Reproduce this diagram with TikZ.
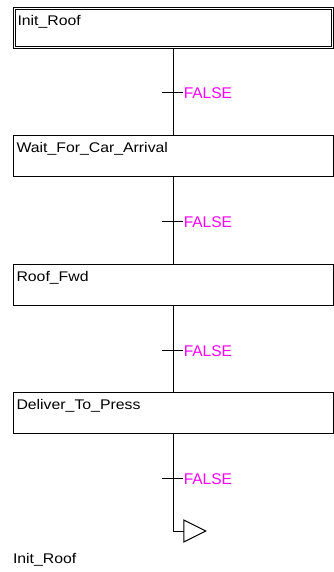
\documentclass[tikz,border=0pt]{standalone}
\usepackage{fontspec}
\setmainfont{Liberation Sans}
\newfontfamily\stepfont[FakeStretch=1.13]{Liberation Sans}
\usetikzlibrary{positioning}
\definecolor{condpink}{RGB}{255,0,255}
\tikzset{
	stepbox/.style={draw=black,minimum width=319.5pt,minimum height=41pt,inner xsep=3pt,inner ysep=0pt,outer sep=0pt,
		text width=313.5pt,align=left,text height=17pt,text depth=24pt,font=\stepfont\fontsize{14}{16}\selectfont},
	initstep/.style={stepbox,double,double distance=1pt,minimum width=317.5pt,minimum height=39.5pt,
		text width=311.5pt,text depth=22.5pt},
	condlbl/.style={anchor=base west,inner sep=0pt,text=condpink,font=\fontsize{15.5}{17}\selectfont},
}
\begin{document}
\begin{tikzpicture}[x=1pt,y=-1pt,line width=1pt]
	\useasboundingbox (0,0) rectangle (334,572);
	% steps and transitions
	\node[initstep,anchor=north west] (init) at (14.5,8.5) {Init\_Roof};
	\coordinate[below=45pt of init.south] (t1);
	\node[stepbox,below=42.5pt of t1] (wait) {Wait\_For\_Car\_Arrival};
	\coordinate[below=45pt of wait.south] (t2);
	\node[stepbox,below=42.5pt of t2] (fwd) {Roof\_Fwd};
	\coordinate[below=45pt of fwd.south] (t3);
	\node[stepbox,below=42.5pt of t3] (deliver) {Deliver\_To\_Press};
	\coordinate[below=45pt of deliver.south] (t4);
	\coordinate[below=52.5pt of t4] (jmp);
	% links
	\draw (init.south -| wait.north) -- (wait.north);
	\draw (wait.south) -- (fwd.north);
	\draw (fwd.south) -- (deliver.north);
	\draw (deliver.south) -- (jmp) -- ++(10.5,0) coordinate (jmpbase);
	% transition bars and conditions
	\draw (t1) ++(-11,0) -- ++(21,0) node[condlbl] (c1) at ([shift={(10,6)}]t1) {FALSE};
	\draw (t2) ++(-11,0) -- ++(21,0) node[condlbl] (c2) at ([shift={(10,6)}]t2) {FALSE};
	\draw (t3) ++(-11,0) -- ++(21,0) node[condlbl] (c3) at ([shift={(10,6)}]t3) {FALSE};
	\draw (t4) ++(-11,0) -- ++(21,0) node[condlbl] (c4) at ([shift={(10,6)}]t4) {FALSE};
	% jump
	\draw (jmpbase) ++(0,-11) -- ++(0,22) -- ++(22,-11) -- cycle;
	\node[anchor=base west,inner sep=0pt,font=\stepfont\fontsize{14}{16}\selectfont] (jmplbl) at ([shift={(-1,130)}]deliver.south west) {Init\_Roof};
	% action stubs
	\draw (wait.north east) ++(0,9.5) -- ++(3,0);
	\draw (fwd.north east) ++(0,9.5) -- ++(3,0);
	\draw (deliver.north east) ++(0,9.5) -- ++(3,0);
\end{tikzpicture}
\end{document}
